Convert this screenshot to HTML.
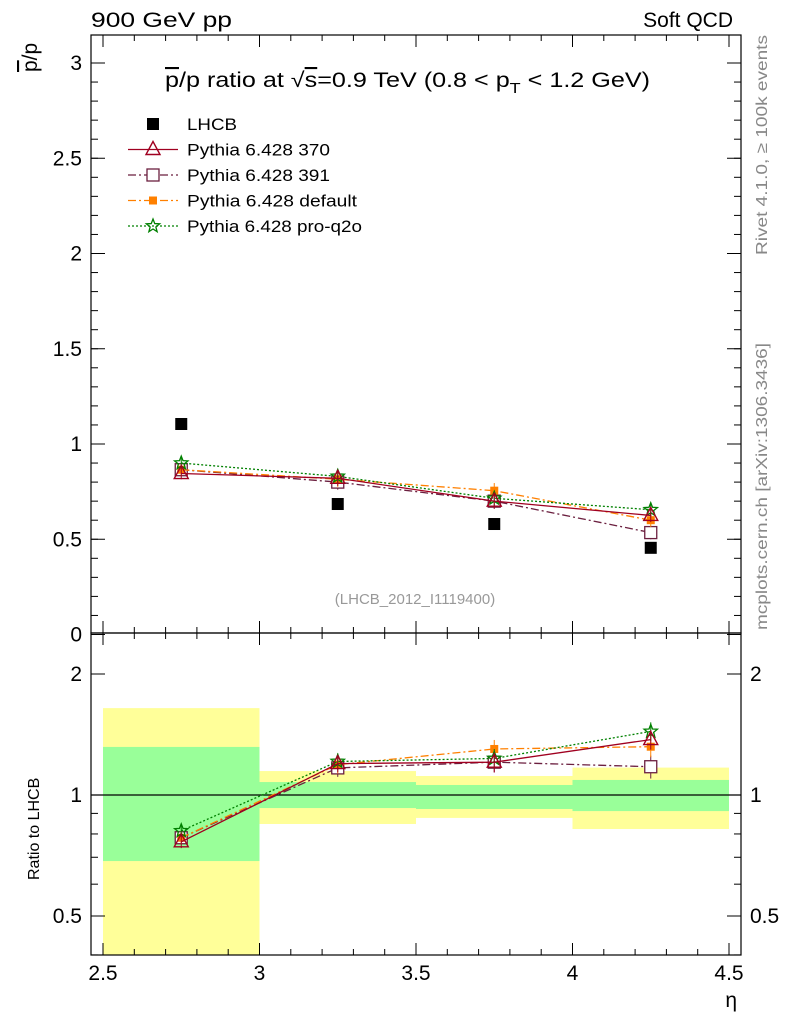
<!DOCTYPE html>
<html><head><meta charset="utf-8"><style>
body{margin:0;background:#fff}
svg text{font-family:"Liberation Sans",sans-serif}
</style></head><body>
<svg id="c" width="786" height="1024" xmlns="http://www.w3.org/2000/svg"></svg>
<script>
const bins=[2.75,3.25,3.75,4.25];
const binEdges=[2.5,3,3.5,4,4.5];
const lhcb=[1.105,0.685,0.58,0.455];
const s370=[0.845,0.82,0.70,0.625];
const s391=[0.865,0.80,0.70,0.535];
const sDef=[0.865,0.815,0.755,0.60];
const sQ2o=[0.90,0.83,0.715,0.655];
const errs=[0.03,0.04,0.04,0.035];
const greenLo=[0.685,0.928,0.923,0.912];
const greenHi=[1.317,1.077,1.059,1.09];
const yellowLo=[0.3,0.847,0.877,0.823];
const yellowHi=[1.645,1.147,1.115,1.17];
const xTicks=[2.5,3,3.5,4,4.5];
const yTicks=[0,0.5,1,1.5,2,2.5,3];
const rTicks=[0.5,1,2];

const svg=document.getElementById('c');
const NS='http://www.w3.org/2000/svg';
function el(t,a,p){const e=document.createElementNS(NS,t);for(const k in a)e.setAttribute(k,a[k]);(p||svg).appendChild(e);return e;}
function X(v){return 103+(v-2.5)*313;}
function Y(v){return 634.5-v*190.5;}
function R(v){return 795-121*Math.log2(v);}
const L=91,Rt=741,T=35,M=633,B=955;

for(let i=0;i<4;i++){
 let r=el('rect',{x:X(binEdges[i]),y:R(yellowHi[i]),width:X(binEdges[i+1])-X(binEdges[i]),height:Math.min(B,R(yellowLo[i]))-R(yellowHi[i]),fill:'#ffff99'});
 
 let g=el('rect',{x:X(binEdges[i]),y:R(greenHi[i]),width:X(binEdges[i+1])-X(binEdges[i]),height:R(greenLo[i])-R(greenHi[i]),fill:'#99ff99'});
 
}
el('line',{x1:L,x2:Rt,y1:R(1),y2:R(1),stroke:'#000','stroke-width':1.2});

for(const [y1,y2] of [[T,M],[M,B]]){
 const f=el('rect',{x:L,y:y1,width:Rt-L,height:y2-y1,fill:'none',stroke:'#000','stroke-width':1.2});
 
}
xTicks.forEach(v=>{
 for(const [y1,y2] of [[T,M],[M,B]]){
  el('line',{x1:X(v),x2:X(v),y1:y2,y2:y2-12,stroke:'#000'});
  el('line',{x1:X(v),x2:X(v),y1:y1,y2:y1+12,stroke:'#000'});
 }
 const t=el('text',{x:X(v),y:980,'font-size':21,'text-anchor':'middle'});t.textContent=v;
 
});
for(let v=2.5;v<=4.51;v+=0.1){for(const yy of [M,B]){el('line',{x1:X(v),x2:X(v),y1:yy,y2:yy-6,stroke:'#000'});}el('line',{x1:X(v),x2:X(v),y1:T,y2:T+6,stroke:'#000'});el('line',{x1:X(v),x2:X(v),y1:M,y2:M+6,stroke:'#000'});}
yTicks.forEach(v=>{
 el('line',{x1:L,x2:L+14,y1:Y(v),y2:Y(v),stroke:'#000'});el('line',{x1:Rt,x2:Rt-14,y1:Y(v),y2:Y(v),stroke:'#000'});
 const t=el('text',{x:82,y:Y(v)+7,'font-size':21,'text-anchor':'end'});t.textContent=v;
 
});
for(let v=0;v<=3.1;v+=0.1){el('line',{x1:L,x2:L+7,y1:Y(v),y2:Y(v),stroke:'#000'});el('line',{x1:Rt,x2:Rt-7,y1:Y(v),y2:Y(v),stroke:'#000'});}
rTicks.forEach(v=>{
 el('line',{x1:L,x2:L+14,y1:R(v),y2:R(v),stroke:'#000'});el('line',{x1:Rt,x2:Rt-14,y1:R(v),y2:R(v),stroke:'#000'});
 const t=el('text',{x:82,y:R(v)+7,'font-size':21,'text-anchor':'end'});t.textContent=v;
 
 const t2=el('text',{x:750,y:R(v)+7,'font-size':21});t2.textContent=v;
 
});
[0.4,0.6,0.7,0.8,0.9,3].forEach(v=>{const y=R(v);if(y>M&&y<B){el('line',{x1:L,x2:L+7,y1:y,y2:y,stroke:'#000'});el('line',{x1:Rt,x2:Rt-7,y1:y,y2:y,stroke:'#000'});}});

const series=[
 {d:s391,c:'#6b1f3f',dash:'8,3,2,3',m:'sq',name:'Pythia 6.428 391'},
 {d:sDef,c:'#ff8000',dash:'8,3,2,3',m:'fsq',name:'Pythia 6.428 default'},
 {d:sQ2o,c:'#008000',dash:'2,2',m:'star',name:'Pythia 6.428 pro-q2o'},
 {d:s370,c:'#a00020',dash:'',m:'tri',name:'Pythia 6.428 370'}
];
function marker(m,x,y,c,nm){
 let e;
 if(m==='sq')e=el('rect',{x:x-6,y:y-6,width:12,height:12,fill:'#fff',stroke:c,'stroke-width':1.3});
 else if(m==='fsq')e=el('rect',{x:x-4,y:y-4,width:8,height:8,fill:c});
 else if(m==='tri')e=el('polygon',{points:`${x},${y-8} ${x-7},${y+5} ${x+7},${y+5}`,fill:'none',stroke:c,'stroke-width':1.4});
 else if(m==='star'){let p=[];for(let k=0;k<10;k++){const r=k%2?3:7,a=-Math.PI/2+k*Math.PI/5;p.push((x+r*Math.cos(a))+','+(y+r*Math.sin(a)));}e=el('polygon',{points:p.join(' '),fill:'none',stroke:c,'stroke-width':1.3});}
 else e=el('rect',{x:x-6,y:y-6,width:12,height:12,fill:c});
 
}
series.forEach(s=>{
 const pm=s.d.map((v,i)=>X(bins[i])+','+Y(v)).join(' ');
 const pl=el('polyline',{points:pm,fill:'none',stroke:s.c,'stroke-width':1.3,'stroke-dasharray':s.dash});
 
 const pr=s.d.map((v,i)=>X(bins[i])+','+R(v/lhcb[i])).join(' ');
 const pl2=el('polyline',{points:pr,fill:'none',stroke:s.c,'stroke-width':1.3,'stroke-dasharray':s.dash});
 
 s.d.forEach((v,i)=>{
  const x=X(bins[i]);
  el('line',{x1:x,x2:x,y1:Y(v+errs[i]),y2:Y(v-errs[i]),stroke:s.c});
  el('line',{x1:x,x2:x,y1:R((v+errs[i])/lhcb[i]),y2:R((v-errs[i])/lhcb[i]),stroke:s.c});
  marker(s.m,x,Y(v),s.c,'series-marker');
  marker(s.m,x,R(v/lhcb[i]),s.c,'ratio-marker');
 });
});
lhcb.forEach((v,i)=>marker('data',X(bins[i]),Y(v),'#000','lhcb-point'));

const leg=[{m:'data',c:'#000',dash:null,n:'LHCB',w:50},{m:'tri',c:'#a00020',dash:'',n:'Pythia 6.428 370',w:143},{m:'sq',c:'#6b1f3f',dash:'8,3,2,3',n:'Pythia 6.428 391',w:143},{m:'fsq',c:'#ff8000',dash:'8,3,2,3',n:'Pythia 6.428 default',w:170},{m:'star',c:'#008000',dash:'2,2',n:'Pythia 6.428 pro-q2o',w:175}];
leg.forEach((l,i)=>{
 const y=124+i*25.5;
 if(l.dash!==null)el('line',{x1:128,x2:178,y1:y,y2:y,stroke:l.c,'stroke-width':1.3,'stroke-dasharray':l.dash});
 marker(l.m,153,y,l.c,'legend-marker');
 const t=el('text',{x:187,y:y+6,'font-size':17,textLength:l.w,lengthAdjust:'spacingAndGlyphs'});t.textContent=l.n;
 
});

function txt(x,y,s,str,nm,extra){const t=el('text',Object.assign({x:x,y:y,'font-size':s},extra||{}));t.innerHTML=str;return t;}
txt(91,27,21,'900 GeV pp','header-left',{textLength:141,lengthAdjust:'spacingAndGlyphs'});
txt(733,27,21,'Soft QCD','header-right',{'text-anchor':'end'});
txt(165,87,21,'<tspan text-decoration="overline">p</tspan>/p ratio at √<tspan text-decoration="overline">s</tspan>=0.9 TeV (0.8 &lt; p<tspan font-size="15" dy="6">T</tspan><tspan dy="-6"> &lt; 1.2 GeV)</tspan>','plot-title',{textLength:485,lengthAdjust:'spacingAndGlyphs'});
txt(415,604,15,'(LHCB_2012_I1119400)','analysis-id',{'text-anchor':'middle',fill:'#999'});
txt(737,1007,21,'η','x-axis-title',{'text-anchor':'end'});
txt(0,0,21,'<tspan text-decoration="overline">p</tspan>/p','y-axis-title',{transform:'translate(37,72) rotate(-90)'});
txt(0,0,16,'Ratio to LHCB','ratio-axis-title',{transform:'translate(39,880) rotate(-90)'});
txt(0,0,16,'Rivet 4.1.0, ≥ 100k events','rivet-label',{transform:'translate(767,255) rotate(-90)',fill:'#888',textLength:220,lengthAdjust:'spacingAndGlyphs'});
txt(0,0,16,'mcplots.cern.ch [arXiv:1306.3436]','mcplots-label',{transform:'translate(767,630) rotate(-90)',fill:'#888',textLength:287,lengthAdjust:'spacingAndGlyphs'});
</script>
</body></html>
